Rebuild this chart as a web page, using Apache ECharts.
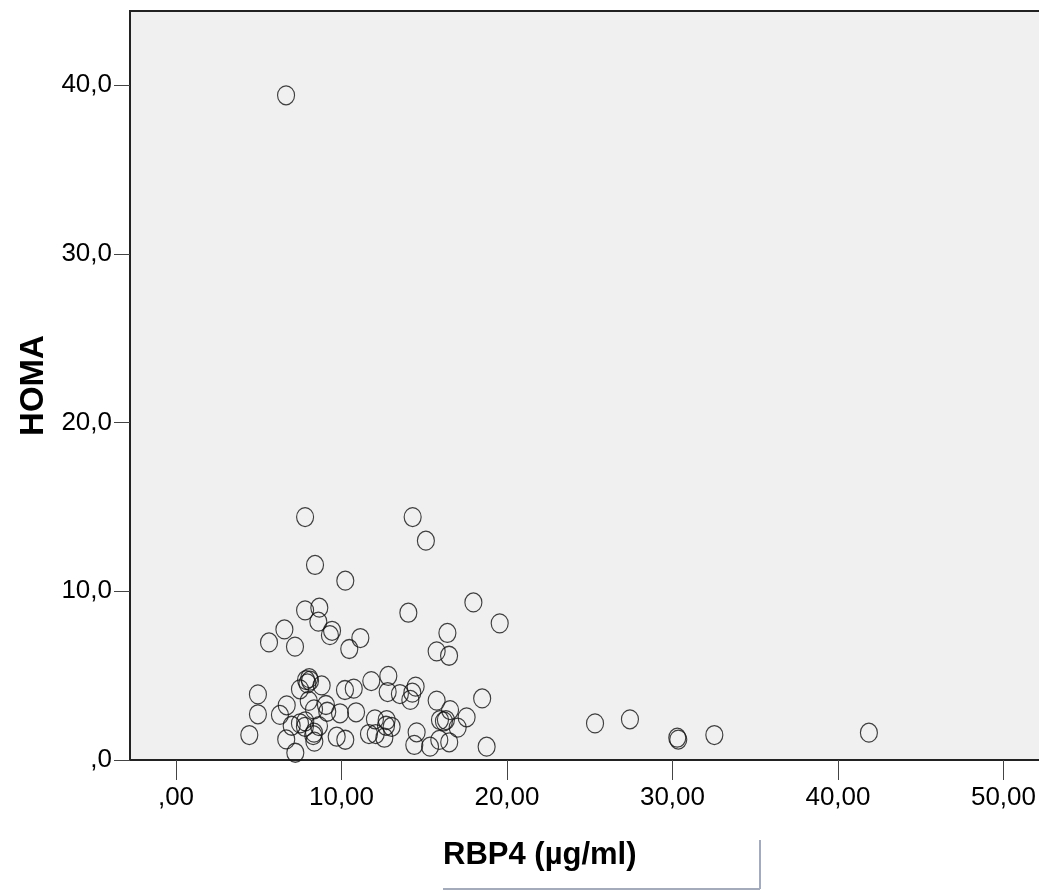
<!DOCTYPE html>
<html>
<head>
<meta charset="utf-8">
<script src="https://cdn.jsdelivr.net/npm/echarts@6/dist/echarts.min.js"></script>
<style>
  html, body { margin: 0; padding: 0; background: #fff; }
  #chart { width: 1039px; height: 891px; }
</style>
</head>
<body>
<div id="chart"></div>
<script>
// RBP4 (µg/ml) per subject
const rbp4 = [
  6.65, 7.80, 14.30, 15.10, 8.40, 10.23, 7.80, 8.66, 14.04, 17.97,
  19.56, 6.55, 8.60, 9.43, 9.30, 5.62, 7.19, 11.14, 10.47, 16.40,
  15.75, 16.50, 12.83, 11.80, 14.48, 14.28, 14.16, 13.53, 12.79, 10.74,
  10.21, 8.80, 7.86, 8.10, 7.94, 7.49, 4.95, 4.95, 6.69, 6.28,
  8.02, 9.06, 8.34, 9.14, 9.91, 10.88, 15.75, 16.56, 17.56, 18.50,
  6.99, 7.49, 7.81, 7.79, 8.64, 8.34, 6.66, 8.36, 7.21, 4.43,
  12.02, 12.73, 13.03, 12.69, 9.71, 10.23, 11.66, 12.07, 12.59, 14.54,
  14.40, 15.35, 15.95, 16.19, 17.02, 15.91, 16.51, 18.77, 25.32, 27.43,
  30.29, 30.35, 32.53, 41.87, 16.31, 8.29, 8.05
];
// HOMA index per subject
const homa = [
  39.40, 14.40, 14.40, 13.00, 11.56, 10.63, 8.87, 9.03, 8.73, 9.34,
  8.10, 7.74, 8.20, 7.66, 7.40, 6.97, 6.72, 7.23, 6.58, 7.53,
  6.44, 6.18, 4.98, 4.68, 4.35, 3.99, 3.56, 3.91, 4.03, 4.23,
  4.15, 4.42, 4.74, 4.70, 4.54, 4.19, 3.89, 2.71, 3.24, 2.67,
  3.50, 3.26, 3.00, 2.86, 2.77, 2.83, 3.52, 2.96, 2.53, 3.65,
  2.03, 2.17, 2.29, 1.97, 2.01, 1.62, 1.22, 1.09, 0.43, 1.48,
  2.41, 2.37, 1.97, 2.03, 1.38, 1.20, 1.54, 1.54, 1.32, 1.64,
  0.89, 0.79, 2.37, 2.29, 1.92, 1.19, 1.05, 0.79, 2.17, 2.41,
  1.32, 1.21, 1.48, 1.62, 2.37, 1.48, 4.85
];

const xTicks = [0, 10, 20, 30, 40, 50];
const yTicks = [0, 10, 20, 30, 40];
const xTickLabels = [',00', '10,00', '20,00', '30,00', '40,00', '50,00'];
const yTickLabels = [',0', '10,0', '20,0', '30,0', '40,0'];
const xTitle = 'RBP4 (µg/ml)';
const yTitle = 'HOMA';

const points = rbp4.map((v, i) => [v, homa[i]]);
const FONT = '"Liberation Sans", Arial, sans-serif';

const chart = echarts.init(document.getElementById('chart'), null, { renderer: 'canvas' });
chart.setOption({
  animation: false,
  backgroundColor: '#ffffff',
  grid: {
    left: 130, top: 11, width: 960, height: 749,
    outerBoundsMode: 'none',
    containLabel: false,
    show: true, backgroundColor: '#f0f0f0',
    borderColor: '#222', borderWidth: 2
  },
  xAxis: {
    type: 'value', min: -2.78, max: 55.23,
    splitLine: { show: false },
    axisLine: { show: true, onZero: false, lineStyle: { color: '#222', width: 2 } },
    axisTick: { show: true, length: 20, customValues: xTicks, lineStyle: { color: '#444', width: 1 } },
    axisLabel: {
      customValues: xTicks, margin: 25,
      color: '#000', fontFamily: FONT, fontSize: 26,
      formatter: v => xTickLabels[xTicks.indexOf(v)]
    }
  },
  yAxis: {
    type: 'value', min: 0, max: 44.4,
    splitLine: { show: false },
    axisLine: { show: true, onZero: false, lineStyle: { color: '#222', width: 2 } },
    axisTick: { show: true, length: 16, customValues: yTicks, lineStyle: { color: '#444', width: 1 } },
    axisLabel: {
      customValues: yTicks, margin: 18,
      color: '#000', fontFamily: FONT, fontSize: 26,
      formatter: v => yTickLabels[yTicks.indexOf(v)]
    },
    name: yTitle, nameLocation: 'middle', nameRotate: 90, nameGap: 76,
    nameTextStyle: { color: '#000', fontFamily: FONT, fontSize: 33, fontWeight: 'bold' }
  },
  series: [{
    type: 'scatter',
    data: points,
    symbol: 'circle',
    symbolSize: [17, 19],
    clip: false,
    itemStyle: { color: 'rgba(0,0,0,0)', borderColor: '#111', borderWidth: 1.2 }
  }],
  graphic: [
    {
      type: 'text', left: 443, top: 840,
      style: { text: xTitle, fill: '#000', font: 'bold 31px ' + FONT }
    },
    {
      type: 'line', shape: { x1: 443, y1: 889, x2: 760, y2: 889 },
      style: { stroke: '#a4acbc', lineWidth: 2 }
    },
    {
      type: 'line', shape: { x1: 760, y1: 840, x2: 760, y2: 889 },
      style: { stroke: '#a4acbc', lineWidth: 2 }
    }
  ]
});
</script>
</body>
</html>
